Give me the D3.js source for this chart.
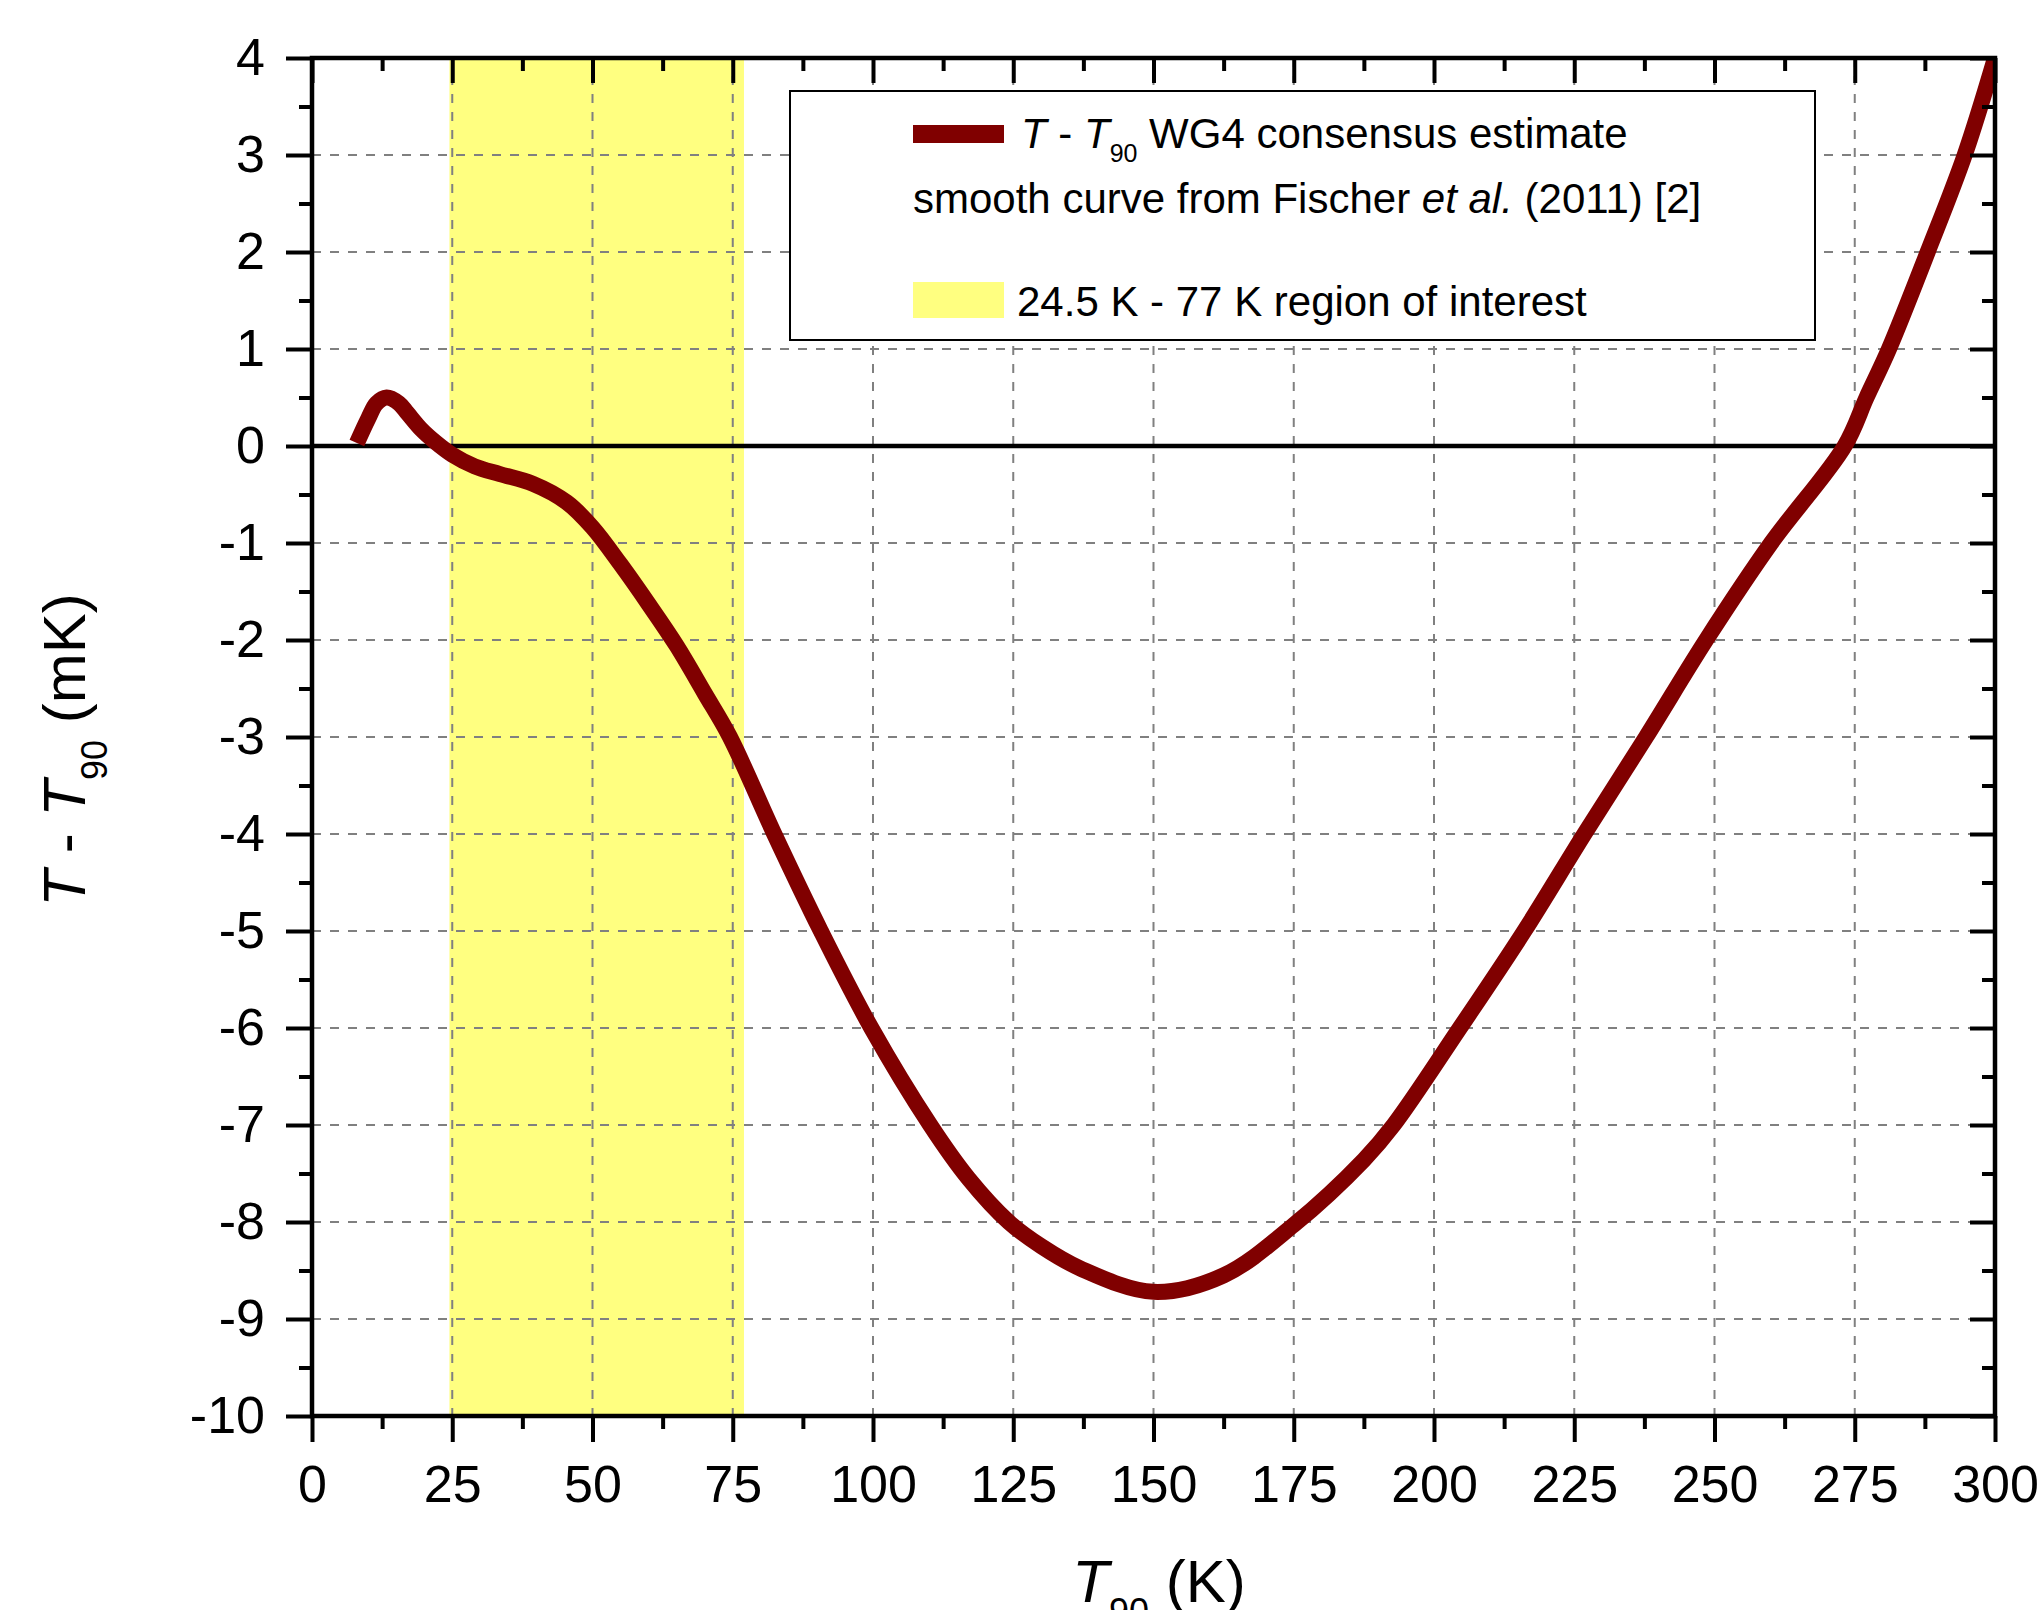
<!DOCTYPE html>
<html>
<head>
<meta charset="utf-8">
<script src="https://cdn.jsdelivr.net/npm/d3@7"></script>
<style>
  html, body { margin: 0; padding: 0; background: #fff; }
  svg { display: block; font-family: "Liberation Sans", Arial, sans-serif; }
</style>
</head>
<body>
<div id="chart"></div>
<script>
// T90 (K) vs T - T90 (mK)
const tempK = [8, 10, 11.5, 13.3, 15.5, 17, 19.5, 22, 25, 29, 33.5, 39.4, 45.4, 50, 55, 60, 65, 70, 74.5,
  82.4, 90.7, 99.7, 110.2, 117, 124.2, 130, 137, 150, 162.5, 175, 187.5, 192.8, 204.6, 216.1, 226.8, 237.8,
  248.5, 260.1, 273.2, 277.1, 281.1, 288, 294.6, 300];
const deltaMK = [0.03, 0.28, 0.44, 0.50, 0.44, 0.34, 0.17, 0.04, -0.09, -0.21, -0.29, -0.39, -0.58, -0.84, -1.22, -1.63, -2.06, -2.55, -3.0,
  -4.0, -5.0, -6.0, -7.0, -7.55, -8.0, -8.25, -8.48, -8.72, -8.55, -8.03, -7.36, -7.0, -6.0, -5.0, -4.0, -3.0,
  -2.0, -1.0, 0.0, 0.5, 1.0, 2.0, 3.0, 4.0];

const regionK = [24.5, 77];
const xTicks = d3.range(0, 301, 25);
const xMinor = d3.range(12.5, 300, 25);
const yTicks = d3.range(-10, 5, 1);
const yMinor = d3.range(-9.5, 4, 1);

const legendLine1 = 'WG4 consensus estimate';
const legendLine2 = ['smooth curve from Fischer ', 'et al.', ' (2011) [2]'];
const legendLine3 = '24.5 K - 77 K region of interest';

const curveColor = '#800000';
const regionColor = '#FFFF80';
const gridColor = '#808080';

const width = 2037, height = 1610;
const margin = {left: 312, right: 42, top: 58, bottom: 194};
const plotW = width - margin.left - margin.right;
const plotH = height - margin.top - margin.bottom;

const data = tempK.map((t, i) => ({t, v: deltaMK[i]}));

const svg = d3.select('#chart').append('svg')
  .attr('width', width)
  .attr('height', height);

svg.append('defs').append('clipPath')
  .attr('id', 'plot-clip')
  .append('rect')
  .attr('width', plotW)
  .attr('height', plotH);

const g = svg.append('g')
  .attr('transform', `translate(${margin.left},${margin.top})`);

const xScale = d3.scaleLinear().domain([0, 300]).range([0, plotW]);
const yScale = d3.scaleLinear().domain([-10, 4]).range([plotH, 0]);

// region of interest
g.append('rect')
  .attr('x', xScale(regionK[0]))
  .attr('y', 0)
  .attr('width', xScale(regionK[1]) - xScale(regionK[0]))
  .attr('height', plotH)
  .attr('fill', regionColor);

// dashed grid
const grid = g.append('g').attr('class', 'grid')
  .attr('stroke', gridColor)
  .attr('stroke-width', 2)
  .attr('stroke-dasharray', '9,9');

grid.selectAll('.vgrid')
  .data(xTicks.filter(d => d > 0 && d < 300))
  .join('line')
  .attr('x1', d => xScale(d))
  .attr('x2', d => xScale(d))
  .attr('y1', 0)
  .attr('y2', plotH);

grid.selectAll('.hgrid')
  .data(yTicks.filter(d => d > -10 && d < 4 && d !== 0))
  .join('line')
  .attr('x1', 0)
  .attr('x2', plotW)
  .attr('y1', d => yScale(d))
  .attr('y2', d => yScale(d));

// zero line
g.append('line')
  .attr('x1', 0)
  .attr('x2', plotW)
  .attr('y1', yScale(0))
  .attr('y2', yScale(0))
  .attr('stroke', '#000')
  .attr('stroke-width', 4.5);

// curve
const line = d3.line()
  .x(d => xScale(d.t))
  .y(d => yScale(d.v))
  .curve(d3.curveCatmullRom.alpha(0.5));

g.append('path')
  .datum(data)
  .attr('clip-path', 'url(#plot-clip)')
  .attr('fill', 'none')
  .attr('stroke', curveColor)
  .attr('stroke-width', 16)
  .attr('stroke-linecap', 'butt')
  .attr('stroke-linejoin', 'round')
  .attr('d', line);

// axes
function styleAxis(sel) {
  sel.select('.domain').remove();
  sel.selectAll('line').attr('stroke', '#000').attr('stroke-width', 4);
  sel.selectAll('text')
    .attr('fill', '#000')
    .style('font-size', '52px')
    .style('font-family', '"Liberation Sans", Arial, sans-serif');
}

const fmt = d => String(d);

g.append('g')
  .attr('transform', `translate(0,${plotH})`)
  .call(d3.axisBottom(xScale).tickValues(xTicks).tickSize(26).tickPadding(23).tickFormat(fmt))
  .call(styleAxis);
g.append('g')
  .attr('transform', `translate(0,${plotH})`)
  .call(d3.axisBottom(xScale).tickValues(xMinor).tickSize(13).tickFormat(''))
  .call(styleAxis);

g.append('g')
  .call(d3.axisLeft(yScale).tickValues(yTicks).tickSize(26).tickPadding(21).tickFormat(fmt))
  .call(styleAxis);
g.append('g')
  .call(d3.axisLeft(yScale).tickValues(yMinor).tickSize(13).tickFormat(''))
  .call(styleAxis);

// top and right: inward ticks, no labels
g.append('g')
  .call(d3.axisBottom(xScale).tickValues(xTicks).tickSize(25).tickFormat(''))
  .call(styleAxis);
g.append('g')
  .call(d3.axisBottom(xScale).tickValues(xMinor).tickSize(13).tickFormat(''))
  .call(styleAxis);
g.append('g')
  .attr('transform', `translate(${plotW},0)`)
  .call(d3.axisLeft(yScale).tickValues(yTicks).tickSize(25).tickFormat(''))
  .call(styleAxis);
g.append('g')
  .attr('transform', `translate(${plotW},0)`)
  .call(d3.axisLeft(yScale).tickValues(yMinor).tickSize(13).tickFormat(''))
  .call(styleAxis);

// frame
g.append('rect')
  .attr('width', plotW)
  .attr('height', plotH)
  .attr('fill', 'none')
  .attr('stroke', '#000')
  .attr('stroke-width', 4.5);

// legend
const legend = svg.append('g').attr('class', 'legend');
legend.append('rect')
  .attr('x', 790).attr('y', 91)
  .attr('width', 1025).attr('height', 249)
  .attr('fill', '#fff')
  .attr('stroke', '#000')
  .attr('stroke-width', 2);

legend.append('line')
  .attr('x1', 913).attr('x2', 1004)
  .attr('y1', 134).attr('y2', 134)
  .attr('stroke', curveColor)
  .attr('stroke-width', 18);

const t1 = legend.append('text')
  .attr('x', 1021).attr('y', 148)
  .style('font-size', '42px');
t1.append('tspan').style('font-style', 'italic').text('T');
t1.append('tspan').text(' - ');
t1.append('tspan').style('font-style', 'italic').text('T');
t1.append('tspan').attr('dy', 14).style('font-size', '25px').text('90');
t1.append('tspan').attr('dy', -14).text(' ' + legendLine1);

const t2 = legend.append('text')
  .attr('x', 913).attr('y', 213)
  .style('font-size', '42px');
t2.append('tspan').text(legendLine2[0]);
t2.append('tspan').style('font-style', 'italic').text(legendLine2[1]);
t2.append('tspan').text(legendLine2[2]);

legend.append('rect')
  .attr('x', 913).attr('y', 282)
  .attr('width', 91).attr('height', 36)
  .attr('fill', regionColor);

legend.append('text')
  .attr('x', 1017).attr('y', 316)
  .style('font-size', '42px')
  .text(legendLine3);

// axis titles
const xTitle = svg.append('text')
  .attr('x', 1159).attr('y', 1602)
  .attr('text-anchor', 'middle')
  .style('font-size', '60px');
xTitle.append('tspan').style('font-style', 'italic').text('T');
xTitle.append('tspan').attr('dy', 22).style('font-size', '36px').text('90');
xTitle.append('tspan').attr('dy', -22).text(' (K)');

const yTitle = svg.append('text')
  .attr('transform', 'translate(85,750) rotate(-90)')
  .attr('text-anchor', 'middle')
  .style('font-size', '60px');
yTitle.append('tspan').style('font-style', 'italic').text('T');
yTitle.append('tspan').text(' - ');
yTitle.append('tspan').style('font-style', 'italic').text('T');
yTitle.append('tspan').attr('dy', 22).style('font-size', '36px').text('90');
yTitle.append('tspan').attr('dy', -22).text(' (mK)');
</script>
</body>
</html>
